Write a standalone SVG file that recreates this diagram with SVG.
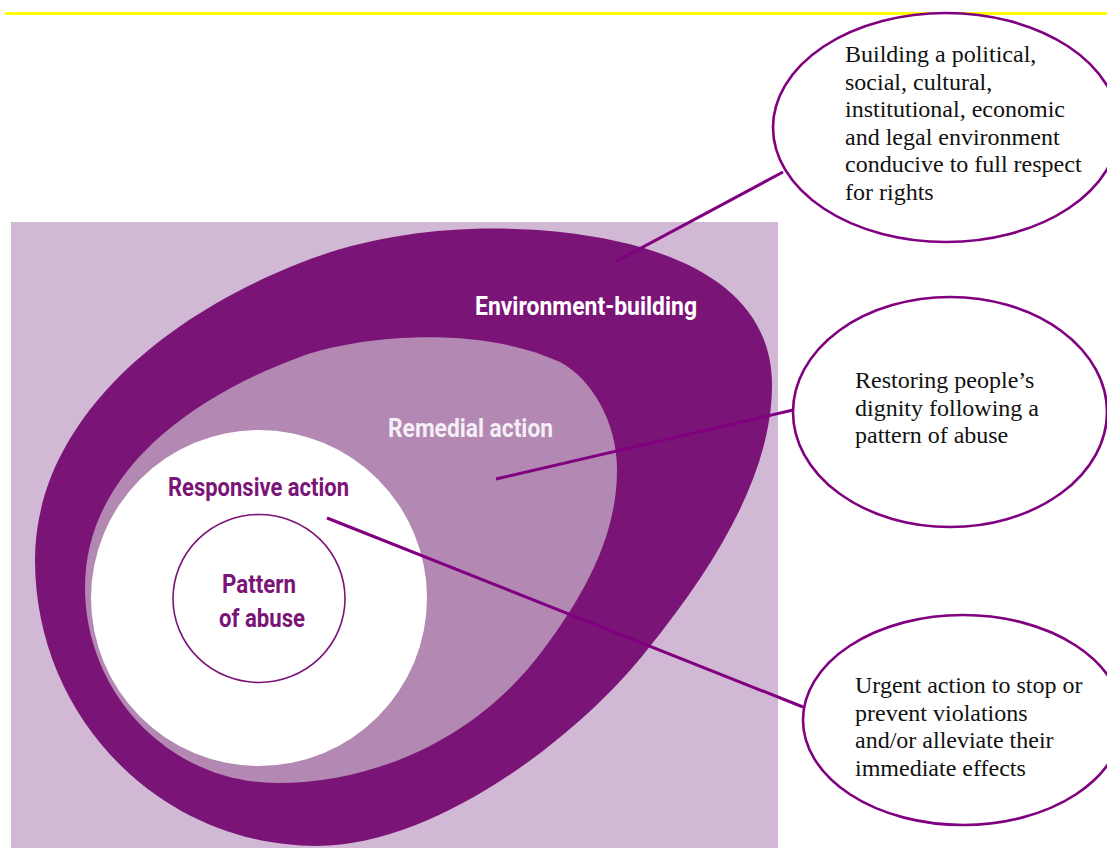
<svg xmlns="http://www.w3.org/2000/svg" width="1107" height="848" viewBox="0 0 1107 848">
  <style>
    .band-label { font-family: Roboto, "DejaVu Sans", sans-serif; font-weight: bold; font-size: 25px; }
    .note { font-family: "Liberation Serif", "Times New Roman", serif; font-size: 24px; fill: #111111; }
    .callout { fill: #ffffff; stroke: #800080; stroke-width: 2.6; }
    .leader { stroke: #800080; stroke-width: 3; stroke-linecap: butt; fill: none; }
  </style>

  <!-- page rule -->
  <line x1="5" y1="13.5" x2="1107" y2="13.5" stroke="#ffff00" stroke-width="3"/>

  <!-- panel backdrop -->
  <rect id="panel" x="11" y="222" width="767" height="626" fill="#d1b8d4"/>

  <!-- outer band: environment-building -->
  <g id="environment-building">
    <path fill="#7b1477" d="M 35,560 C 35,430 150,322 300,263 C 380,231.5 470,223 560,232 C 680,245 772,290 772,385 C 772,470 720,560 647,650 C 585,730 440,846 317,846 C 161,846 35,718 35,560 Z"/>
    <text class="band-label" x="475" y="315" fill="#ffffff" textLength="222" lengthAdjust="spacingAndGlyphs">Environment-building</text>
  </g>

  <!-- middle band: remedial action -->
  <g id="remedial-action">
    <path fill="#b388b2" d="M 85,587 C 85,480 180,401 300,357 C 360,335 480,325 560,362 C 590,378 617,420 617,470 C 617,540 580,600 543,650 C 480,735 380,783 277,783 C 171,783 85,695 85,587 Z"/>
    <text class="band-label" x="388" y="437" fill="#f6eef6" textLength="165" lengthAdjust="spacingAndGlyphs">Remedial action</text>
  </g>

  <!-- inner disc: responsive action -->
  <g id="responsive-action">
    <circle cx="259" cy="598" r="168" fill="#ffffff"/>
    <text class="band-label" x="168" y="496" fill="#7b1477" textLength="181" lengthAdjust="spacingAndGlyphs">Responsive action</text>
  </g>

  <!-- core: pattern of abuse -->
  <g id="pattern-of-abuse">
    <ellipse cx="259" cy="598.5" rx="86" ry="84" fill="none" stroke="#7b1477" stroke-width="1.6"/>
    <text class="band-label" x="222" y="593" fill="#7b1477" textLength="74" lengthAdjust="spacingAndGlyphs">Pattern</text>
    <text class="band-label" x="219" y="627" fill="#7b1477" textLength="86" lengthAdjust="spacingAndGlyphs">of abuse</text>
  </g>

  <!-- leader lines -->
  <g id="connectors">
    <line class="leader" x1="615" y1="262" x2="783" y2="172"/>
    <line class="leader" x1="496" y1="479" x2="793" y2="410"/>
    <line class="leader" x1="327" y1="518" x2="803" y2="707"/>
  </g>

  <!-- callouts -->
  <g id="note-environment">
    <ellipse class="callout" cx="946" cy="127.5" rx="173" ry="114.5"/>
    <text class="note">
      <tspan x="845" y="62">Building a political,</tspan>
      <tspan x="845" y="89.5">social, cultural,</tspan>
      <tspan x="845" y="117">institutional, economic</tspan>
      <tspan x="845" y="144.5">and legal environment</tspan>
      <tspan x="845" y="172">conducive to full respect</tspan>
      <tspan x="845" y="199.5">for rights</tspan>
    </text>
  </g>

  <g id="note-remedial">
    <ellipse class="callout" cx="950" cy="412" rx="157" ry="115"/>
    <text class="note">
      <tspan x="855" y="388">Restoring people’s</tspan>
      <tspan x="855" y="415.5">dignity following a</tspan>
      <tspan x="855" y="443">pattern of abuse</tspan>
    </text>
  </g>

  <g id="note-responsive">
    <ellipse class="callout" cx="963" cy="720" rx="160" ry="105"/>
    <text class="note">
      <tspan x="855" y="693">Urgent action to stop or</tspan>
      <tspan x="855" y="720.5">prevent violations</tspan>
      <tspan x="855" y="748">and/or alleviate their</tspan>
      <tspan x="855" y="775.5">immediate effects</tspan>
    </text>
  </g>
</svg>
